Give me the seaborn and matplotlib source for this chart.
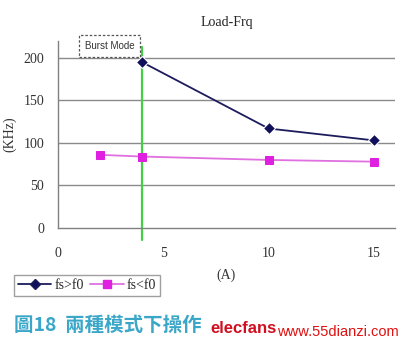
import pandas as pd
import seaborn as sns
import matplotlib.pyplot as plt

# values
load_hi = [4, 10, 15]
freq_hi = [195, 117, 103]
load_lo = [2, 4, 10, 15]
freq_lo = [86, 84, 80, 78]
series_names = ["fs>f0", "fs<f0"]
burst_x = 4


def main():
    sns.set_theme(style="white")
    plt.rcParams["font.family"] = ["Liberation Serif", "Noto Sans CJK TC"]

    df = pd.concat([
        pd.DataFrame({"Load": load_hi, "Freq": freq_hi, "Mode": series_names[0]}),
        pd.DataFrame({"Load": load_lo, "Freq": freq_lo, "Mode": series_names[1]}),
    ])

    fig = plt.figure(figsize=(4.08, 3.59), dpi=100)
    ax = fig.add_axes([0.142, 0.365, 0.826, 0.521])

    # horizontal grid like the Excel original
    for yv in [50, 100, 150, 200]:
        ax.axhline(yv, color="#8a8a8a", lw=1.0, zorder=0)

    sns.lineplot(data=df, x="Load", y="Freq", hue="Mode", style="Mode",
                 palette={"fs>f0": "#1c1c5c", "fs<f0": "#e070e0"},
                 markers={"fs>f0": "D", "fs<f0": "s"}, dashes=False,
                 markersize=6, lw=1.3, ax=ax, legend=False)
    # marker faces
    ax.lines[-2].set_markerfacecolor("#10105a")
    ax.lines[-1].set_markerfacecolor("#e020e0")
    ax.lines[-1].set_markeredgecolor("#e020e0")

    ax.plot([burst_x, burst_x], [-14, 213], color="#44d044", lw=1.6,
            clip_on=False, zorder=1)

    ax.set_xlim(0, 16)
    ax.set_ylim(0, 220)
    ax.set_xticks([0, 5, 10, 15])
    ax.set_yticks([0, 50, 100, 150, 200])
    ax.tick_params(axis="x", direction="in", length=4, color="#808080",
                   labelsize=10, labelcolor="#333333", pad=14)
    ax.tick_params(axis="y", length=0, labelsize=10, labelcolor="#333333", pad=10)
    for side in ["top", "right"]:
        ax.spines[side].set_visible(False)
    for side in ["left", "bottom"]:
        ax.spines[side].set_color("#808080")
        ax.spines[side].set_linewidth(1.0)

    ax.set_xlabel("(A)", fontsize=10, color="#333333", labelpad=6)
    ax.set_ylabel("(KHz)", fontsize=10, color="#333333", labelpad=5)
    ax.set_title("Load-Frq", fontsize=10, color="#222222", pad=11)

    ax.text(2.45, 214, "Burst Mode", fontsize=7, family="Liberation Sans",
            color="#333333", ha="center", va="center",
            bbox=dict(boxstyle="square,pad=0.6", fc="white", ec="#555555",
                      ls=(0, (2, 1.5)), lw=0.9), clip_on=False, zorder=5)

    handles = [plt.Line2D([], [], color="#1c1c5c", marker="D", markersize=5,
                          markerfacecolor="#10105a", lw=1.3),
               plt.Line2D([], [], color="#e070e0", marker="s", markersize=6,
                          markerfacecolor="#e020e0", markeredgecolor="#e020e0", lw=1.3)]
    leg = fig.legend(handles, series_names, loc="upper left",
                     bbox_to_anchor=(0.034, 0.234), ncol=2, fontsize=10,
                     frameon=True, fancybox=False, edgecolor="#888888",
                     handlelength=2.4, columnspacing=0.5, handletextpad=0.2,
                     borderpad=0.3, borderaxespad=0)
    leg.get_frame().set_linewidth(1.0)

    fig.text(0.034, 0.095, "圖18  兩種模式下操作", fontsize=14,
             fontweight="bold", color="#3aa6c8", family="Noto Sans CJK TC",
             va="center")
    fig.text(0.515, 0.085, "elecfans", fontsize=12, fontweight="bold",
             color="#d01020", family="Liberation Sans", va="center")
    fig.text(0.68, 0.075, "www.55dianzi.com", fontsize=10.5,
             color="#e01010", family="Liberation Sans", va="center")

    fig.savefig("out.png", dpi=100, facecolor="white")


if __name__ == "__main__":
    main()
